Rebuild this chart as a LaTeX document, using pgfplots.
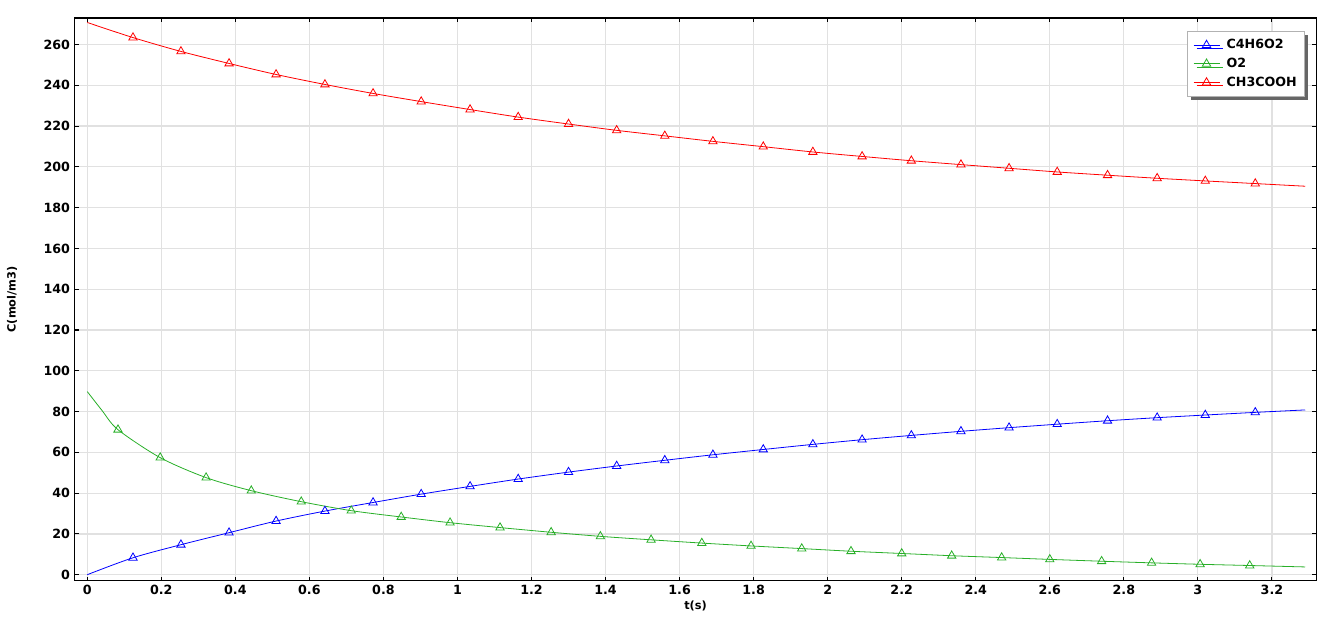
\documentclass[border=0pt]{standalone}
\usepackage{fontspec}
\setmainfont{DejaVu Sans}
\usepackage{pgfplots}
\pgfplotsset{compat=1.18}
\usetikzlibrary{shadows}
\definecolor{cgreen}{RGB}{40,175,40}
\definecolor{gridc}{RGB}{225,225,225}
\begin{document}
\begin{tikzpicture}
\begin{axis}[
  scale only axis,
  width=931pt, height=422pt,
  xmin=-0.034, xmax=3.32,
  ymin=-3, ymax=273,
  xtick={0,0.2,...,3.21},
  ytick={0,20,...,260},
  xticklabel style={/pgf/number format/fixed},
  /pgf/number format/assume math mode=true,
  ticklabel style={font=\bfseries\fontsize{9.5}{11}\selectfont},
  grid=major,
  major grid style={gridc, line width=0.9pt},
  axis line style={black, line width=1pt},
  tick style={black, line width=0.8pt},
  major tick length=3pt,
  xlabel={t(s)},
  ylabel={C(mol/m3)},
  label style={font=\bfseries\fontsize{8.5}{10}\selectfont},
  xlabel style={at={(axis description cs:0.5,0)}, anchor=center, yshift=-19pt},
  ylabel style={at={(axis description cs:0,0.5)}, anchor=center, yshift=47pt},
  legend style={at={(rel axis cs:0.991,0.977)}, anchor=north east,
    draw=gray!60, fill=white, line width=0.6pt,
    drop shadow={shadow xshift=2.5pt, shadow yshift=-2.5pt, fill=gray!80!black, opacity=1},
    font=\bfseries\fontsize{9.5}{11}\selectfont, cells={anchor=west},
    /tikz/every odd column/.append style={column sep=3pt},
    row sep=1.5pt, inner xsep=4pt, inner ysep=4pt},
  legend image code/.code={%
    \begin{scope}[#1]
      \draw[mark=none] (0pt,0pt) -- (19.5pt,0pt);
      \pgftransformshift{\pgfpoint{9.75pt}{0pt}}%
      \pgfsetlinewidth{0.6pt}%
      \pgfuseplotmark{triangle}%
    \end{scope}},
]
\addplot[blue, line width=0.6pt, smooth, mark=triangle, mark size=3.6pt, mark indices={2,3,...,25}, mark options={solid, line width=0.6pt}] coordinates {
(0,0) (0.1235,8.3) (0.253,14.7) (0.383,20.6) (0.51,26.3) (0.642,31.2) (0.772,35.4) (0.902,39.5) (1.034,43.3) (1.164,46.9) (1.3,50.3) (1.43,53.3) (1.56,56.1) (1.69,58.8) (1.826,61.4) (1.96,63.9) (2.093,66.2) (2.226,68.3) (2.36,70.3) (2.49,72.1) (2.62,73.8) (2.756,75.5) (2.89,77.0) (3.02,78.3) (3.155,79.6) (3.29,80.8)
};
\addlegendentry{C4H6O2}
\addplot[cgreen, line width=0.6pt, smooth, mark=triangle, mark size=3.6pt, mark indices={3,4,...,26}, mark options={solid, line width=0.6pt}] coordinates {
(0,89.8) (0.04,80.5) (0.083,71.1) (0.197,57.4) (0.321,47.6) (0.443,41.2) (0.578,35.8) (0.713,31.4) (0.848,28.3) (0.98,25.5) (1.115,23.1) (1.253,20.8) (1.386,18.8) (1.523,17.1) (1.66,15.5) (1.793,14.1) (1.93,12.8) (2.063,11.5) (2.2,10.4) (2.335,9.3) (2.47,8.4) (2.6,7.5) (2.74,6.6) (2.875,5.8) (3.006,5.1) (3.14,4.5) (3.29,3.8)
};
\addlegendentry{O2}
\addplot[red, line width=0.6pt, smooth, mark=triangle, mark size=3.6pt, mark indices={2,3,...,25}, mark options={solid, line width=0.6pt}] coordinates {
(0,270.8) (0.1235,263.4) (0.253,256.6) (0.383,250.7) (0.51,245.3) (0.642,240.4) (0.772,236.0) (0.902,232.0) (1.034,228.1) (1.164,224.4) (1.3,221.0) (1.43,217.9) (1.56,215.2) (1.69,212.5) (1.826,209.9) (1.96,207.3) (2.093,205.1) (2.226,203.0) (2.36,201.1) (2.49,199.3) (2.62,197.5) (2.756,195.9) (2.89,194.4) (3.02,193.1) (3.155,191.8) (3.29,190.5)
};
\addlegendentry{CH3COOH}
\end{axis}
\pgfresetboundingbox
\path ([xshift=-56pt,yshift=-31.5pt]current axis.south west) rectangle ([xshift=8pt,yshift=13.5pt]current axis.north east);
\end{tikzpicture}
\end{document}
